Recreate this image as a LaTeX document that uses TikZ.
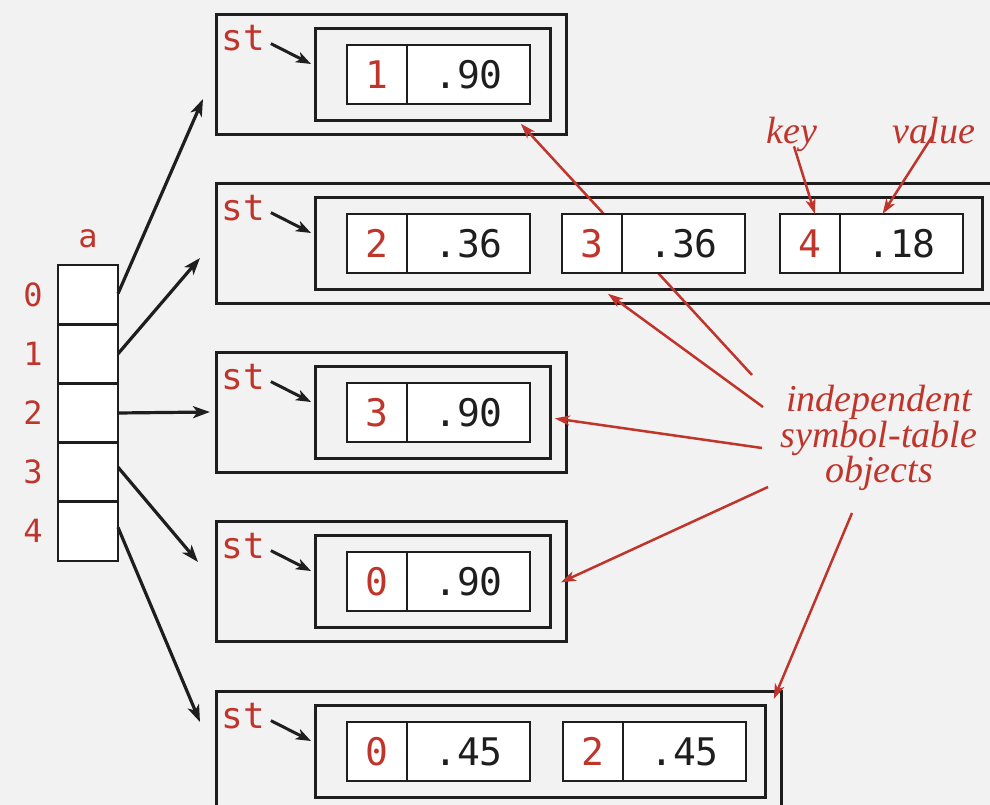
\documentclass[tikz,border=0pt]{standalone}
\usepackage{fontspec}
\setmainfont{Liberation Serif}
\newfontfamily\monof{DejaVu Sans Mono}
\usetikzlibrary{arrows.meta,calc}
\definecolor{bgc}{HTML}{F2F2F2}
\definecolor{rd}{HTML}{C0352B}
\definecolor{ln}{HTML}{1E1E1E}
\begin{document}
\begin{tikzpicture}[x=1pt,y=-1pt,
  box/.style={draw=ln,line width=2.8pt,anchor=north west,inner sep=0pt},
  cellk/.style={draw=ln,line width=2.8pt,fill=white,anchor=north west,outer sep=0pt,minimum width=60pt,minimum height=59pt,inner sep=0pt,text=rd,font=\monof\fontsize{38}{38}\selectfont},
  cellv/.style={draw=ln,line width=2.8pt,fill=white,anchor=north west,outer sep=0pt,minimum width=123pt,minimum height=59pt,inner sep=0pt,text=ln,font=\monof\fontsize{38}{38}\selectfont},
  acell/.style={draw=ln,line width=2.8pt,fill=white,anchor=north west,outer sep=0pt,minimum width=60pt,minimum height=59.2pt,inner sep=0pt},
  stlab/.style={anchor=base,text=rd,font=\monof\fontsize{36}{36}\selectfont,inner sep=0pt},
  idx/.style={anchor=base,text=rd,font=\monof\fontsize{32}{32}\selectfont,inner sep=0pt},
  note/.style={text=rd,font=\itshape\fontsize{38}{34}\selectfont,inner sep=0pt},
  ptr/.style={draw=ln,line width=3.2pt,-{Stealth[length=17pt,width=12pt,inset=4.5pt]}},
  stptr/.style={draw=ln,line width=3pt,-{Stealth[length=15pt,width=11pt,inset=4pt]}},
  rptr/.style={draw=rd,line width=2.5pt,-{Stealth[length=15pt,width=10pt,inset=4pt]}}
]
\fill[bgc] (0,0) rectangle (990,805);
\useasboundingbox (0,0) rectangle (990,805);
\clip (0,0) rectangle (990,805);

% array a
\node[idx] (alab) at (88,247) {a};
\foreach \i in {0,...,4}{
  \node[acell] (a\i) at (58,{265+59.2*\i}) {};
  \node[idx] (n\i) at (33,{306+59.2*\i}) {\i};
}

% outer and inner boxes
\node[box,minimum width=350pt,minimum height=120pt] (o1) at (215,13) {};
\node[box,minimum width=235pt,minimum height=92pt] (i1) at (314,27) {};
\node[box,minimum width=800pt,minimum height=120pt] (o2) at (215,182) {};
\node[box,minimum width=667pt,minimum height=92pt] (i2) at (314,196) {};
\node[box,minimum width=350pt,minimum height=120pt] (o3) at (215,351) {};
\node[box,minimum width=235pt,minimum height=92pt] (i3) at (314,365) {};
\node[box,minimum width=350pt,minimum height=120pt] (o4) at (215,520) {};
\node[box,minimum width=235pt,minimum height=92pt] (i4) at (314,534) {};
\node[box,minimum width=565pt,minimum height=140pt] (o5) at (215,690) {};
\node[box,minimum width=450pt,minimum height=92pt] (i5) at (314,704) {};

% annotation text and free ends
\node[note,align=center] (obj) at (879,438) {independent\\symbol-table\\objects};
\node[note,anchor=base] (key) at (792,144) {key};
\node[note,anchor=base] (val) at (934,144) {value};
\coordinate (c1) at (752,375);
\coordinate (c2) at (763,407);
\coordinate (c3) at (762,448);
\coordinate (c4) at (768,487);
\coordinate (c5) at (852,513);

% red line passing behind the cells
\draw[rptr] (c1) -- ([shift={(-31,2)}]i1.south east);

% cells
\node[cellk] (k1) at (347,45) {1};
\node[cellv] (v1) at (k1.north east) {.90};
\node[cellk] (k2a) at (347,214) {2};
\node[cellv] (v2a) at (k2a.north east) {.36};
\node[cellk] (k2b) at (562,214) {3};
\node[cellv] (v2b) at (k2b.north east) {.36};
\node[cellk] (k2c) at (780,214) {4};
\node[cellv] (v2c) at (k2c.north east) {.18};
\node[cellk] (k3) at (347,383) {3};
\node[cellv] (v3) at (k3.north east) {.90};
\node[cellk] (k4) at (347,552) {0};
\node[cellv] (v4) at (k4.north east) {.90};
\node[cellk] (k5a) at (347,722) {0};
\node[cellv] (v5a) at (k5a.north east) {.45};
\node[cellk] (k5b) at (563,722) {2};
\node[cellv] (v5b) at (k5b.north east) {.45};

% st labels and pointers
\foreach \b/\t in {1/13,2/182,3/351,4/520,5/690}{
  \node[stlab] (st\b) at (243,{\t+38}) {st};
  \draw[stptr] ([shift={(6,5)}]st\b.east) -- ([shift={(-3,37)}]i\b.north west);
}

% array pointers
\draw[ptr] ([yshift=1pt]a0.east) -- ([shift={(-12,86)}]o1.north west);
\draw[ptr] (a1.east) -- ([shift={(-15,76)}]o2.north west);
\draw[ptr] (a2.east) -- ([shift={(-5,61)}]o3.north west);
\draw[ptr] ([yshift=5pt]a3.east) -- ([shift={(-17,42)}]o4.north west);
\draw[ptr] ([yshift=4pt]a4.east) -- ([shift={(-15,32)}]o5.north west);

% red annotation arrows
\draw[rptr] (c2) -- ([shift={(294,3)}]i2.south west);
\draw[rptr] (c3) -- ([shift={(3,6)}]i3.east);
\draw[rptr] (c4) -- ([shift={(9,1)}]i4.east);
\draw[rptr] (c5) -- ([shift={(-9,9)}]o5.north east);
\draw[rptr] ([shift={(2,-6)}]key.south) -- ([xshift=5pt]k2c.north);
\draw[rptr] ([shift={(-2,-8)}]val.south) -- ([xshift=-19pt]v2c.north);
\end{tikzpicture}
\end{document}
